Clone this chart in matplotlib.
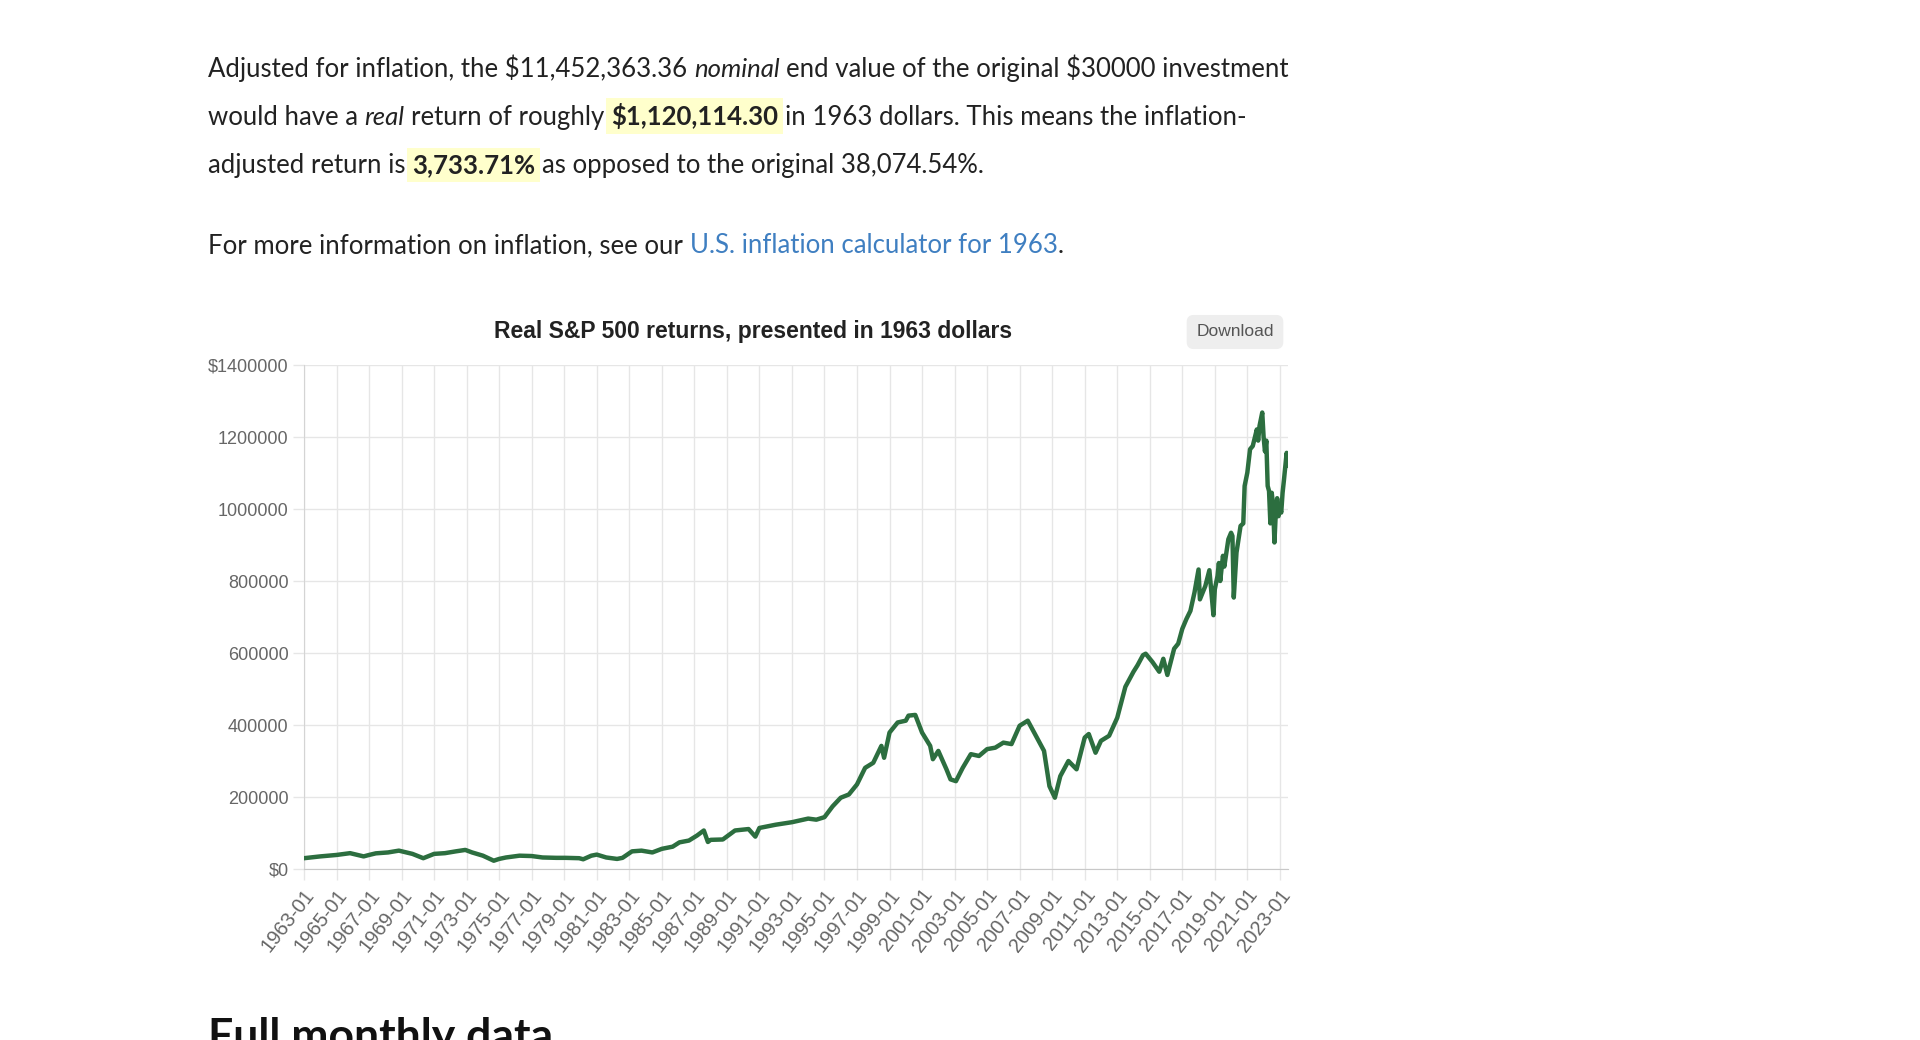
import matplotlib
matplotlib.use('Agg')
import matplotlib.pyplot as plt
from matplotlib import font_manager
from matplotlib.transforms import ScaledTranslation

plt.rcParams['text.parse_math'] = False

# real value of the $30000 (1963 dollars)
months = [
    '1963-01', '1964-01', '1965-01', '1965-11', '1966-09', '1967-01', '1967-06',
    '1968-03', '1968-11', '1969-09', '1970-05', '1971-01', '1971-09', '1972-05',
    '1972-12', '1973-05', '1974-01', '1974-09', '1975-01', '1975-06', '1976-04',
    '1977-01', '1977-09', '1978-07', '1979-02', '1979-12', '1980-03', '1980-09',
    '1981-01', '1981-08', '1982-04', '1982-08', '1983-03', '1983-10', '1984-06',
    '1985-01', '1985-09', '1986-02', '1986-09', '1987-03', '1987-08', '1987-11',
    '1988-01', '1988-10', '1989-07', '1990-05', '1990-10', '1991-01', '1992-01',
    '1993-01', '1994-01', '1994-07', '1995-01', '1995-07', '1996-01', '1996-07',
    '1997-01', '1997-07', '1998-01', '1998-07', '1998-09', '1999-01', '1999-07',
    '2000-01', '2000-03', '2000-08', '2001-01', '2001-07', '2001-09', '2002-01',
    '2002-07', '2002-10', '2003-02', '2003-07', '2004-01', '2004-07', '2005-01',
    '2005-07', '2006-01', '2006-07', '2007-01', '2007-07', '2008-01', '2008-07',
    '2008-11', '2009-03', '2009-07', '2010-01', '2010-07', '2011-01', '2011-04',
    '2011-09', '2012-01', '2012-07', '2013-01', '2013-07', '2014-01', '2014-04',
    '2014-08', '2014-10', '2015-01', '2015-03', '2015-08', '2015-11', '2016-02',
    '2016-07', '2016-10', '2017-01', '2017-04', '2017-07', '2017-10', '2018-01',
    '2018-02', '2018-06', '2018-09', '2018-12', '2019-01', '2019-03', '2019-04',
    '2019-05', '2019-07', '2019-08', '2019-11', '2020-01', '2020-02', '2020-03',
    '2020-05', '2020-08', '2020-10', '2020-11', '2021-01', '2021-03', '2021-05',
    '2021-08', '2021-09', '2021-10', '2021-12', '2022-01', '2022-02', '2022-03',
    '2022-04', '2022-05', '2022-06', '2022-07', '2022-08', '2022-09', '2022-10',
    '2022-11', '2022-12', '2023-01', '2023-02', '2023-03', '2023-04', '2023-05',
    '2023-06', '2023-07',
]
values = [
    30000, 35000, 39000, 44000, 35000, 39000, 43500,
    46000, 51000, 42000, 30000, 42000, 44000, 49000,
    53000, 46000, 37000, 23000, 28000, 32000, 37000,
    36000, 32000, 31000, 31000, 30000, 27000, 37000,
    40000, 32000, 28000, 31000, 49000, 51000, 46000,
    56000, 62000, 74000, 79000, 93000, 107000, 75000,
    81000, 82000, 107000, 111000, 90000, 114000, 123000,
    130000, 140000, 137000, 144000, 174000, 198000, 207000,
    235000, 281000, 295000, 342000, 309000, 379000, 407000,
    412000, 426000, 428000, 379000, 342000, 305000, 328000,
    277000, 249000, 244000, 281000, 319000, 314000, 333000,
    337000, 351000, 347000, 398000, 412000, 370000, 328000,
    230000, 198000, 258000, 300000, 277000, 365000, 375000,
    323000, 356000, 370000, 420000, 506000, 548000, 566000,
    594000, 598000, 584000, 575000, 548000, 584000, 539000,
    612000, 626000, 667000, 694000, 717000, 768000, 832000,
    749000, 786000, 830000, 705000, 777000, 814000, 850000,
    800000, 870000, 840000, 916000, 934000, 925000, 754000,
    879000, 953000, 960000, 1064000, 1101000, 1166000, 1175000,
    1221000, 1190000, 1231000, 1268000, 1200000, 1160000, 1190000,
    1064000, 1050000, 960000, 1045000, 1010000, 907000, 990000,
    1030000, 980000, 1008000, 990000, 1045000, 1080000, 1119000,
    1156000, 1120114,
]

x_labels = [
    '1963-01', '1965-01', '1967-01', '1969-01', '1971-01', '1973-01', '1975-01',
    '1977-01', '1979-01', '1981-01', '1983-01', '1985-01', '1987-01', '1989-01',
    '1991-01', '1993-01', '1995-01', '1997-01', '1999-01', '2001-01', '2003-01',
    '2005-01', '2007-01', '2009-01', '2011-01', '2013-01', '2015-01', '2017-01',
    '2019-01', '2021-01', '2023-01',
]
y_ticks = [0, 200000, 400000, 600000, 800000, 1000000, 1200000, 1400000]
y_labels = ['$0', '200000', '400000', '600000', '800000', '1000000', '1200000', '$1400000']


def month_index(m):
    return (int(m[:4]) - 1963) * 12 + int(m[5:7]) - 1


installed = {f.name for f in font_manager.fontManager.ttflist}
body_font = 'Lato' if 'Lato' in installed else 'Liberation Sans'
chart_font = 'Liberation Sans'

W, H = 1920, 1040
fig = plt.figure(figsize=(W / 100, H / 100), dpi=100)
fig.patch.set_facecolor('white')


def fx(x):
    return x / W


def fy(y):
    return 1 - y / H


# ---- paragraph text above the chart ----
renderer = fig.canvas.get_renderer()
body_size = 18.5
text_color = '#222222'


def text_width(s, **kw):
    t = fig.text(0, 0, s, **kw)
    w = t.get_window_extent(renderer).width
    t.remove()
    return w


def draw_line(x, y, runs):
    for s, style in runs:
        kw = dict(fontsize=body_size, family=body_font, color=text_color, va='baseline', ha='left')
        if style in ('bold', 'mark'):
            kw['fontweight'] = 'bold'
        if style == 'italic':
            kw['fontstyle'] = 'italic'
        if style == 'link':
            kw['color'] = '#3f7fc1'
        if style == 'mark':
            kw['bbox'] = dict(boxstyle='square,pad=0.2', fc='#ffffcc', ec='none')
        space = text_width('a a', **kw) - text_width('aa', **kw)
        lead = len(s) - len(s.lstrip(' '))
        trail = len(s) - len(s.rstrip(' '))
        core = s.strip(' ')
        x += lead * space
        t = fig.text(fx(x), fy(y), core, **kw)
        x += t.get_window_extent(renderer).width + trail * space


draw_line(208, 77, [
    ('Adjusted for inflation, the $11,452,363.36 ', 'normal'),
    ('nominal', 'italic'),
    (' end value of the original $30000 investment', 'normal'),
])
draw_line(208, 125, [
    ('would have a ', 'normal'),
    ('real', 'italic'),
    (' return of roughly ', 'normal'),
    ('$1,120,114.30', 'mark'),
    (' in 1963 dollars. This means the inflation-', 'normal'),
])
draw_line(208, 173, [
    ('adjusted return is ', 'normal'),
    ('3,733.71%', 'mark'),
    (' as opposed to the original 38,074.54%.', 'normal'),
])
draw_line(208, 253, [
    ('For more information on inflation, see our ', 'normal'),
    ('U.S. inflation calculator for 1963', 'link'),
    ('.', 'normal'),
])

fig.text(fx(208), fy(1050), 'Full monthly data', fontsize=32, fontweight='bold',
         family=body_font, color='#111111', va='baseline', ha='left')

# ---- chart ----
fig.text(fx(753), fy(338), 'Real S&P 500 returns, presented in 1963 dollars',
         fontsize=16.5, fontweight='bold', family=chart_font, color='#222222',
         ha='center', va='baseline')
fig.text(fx(1235), fy(332), 'Download', fontsize=12.5, family=chart_font, color='#555555',
         ha='center', va='center',
         bbox=dict(boxstyle='round,pad=0.55,rounding_size=0.4', fc='#eeeeee', ec='none'))

ax = fig.add_axes([fx(304), fy(869), (1288 - 304) / W, (869 - 365) / H])
xs = [month_index(m) for m in months]
ax.plot(xs, values, color='#2c6e3f', lw=3.2, solid_joinstyle='round', zorder=3)

ax.set_xlim(0, xs[-1])
ax.set_ylim(0, 1400000)
ax.set_xticks([month_index(m) for m in x_labels])
ax.set_xticklabels(x_labels, rotation=52, ha='right', va='center', rotation_mode='anchor')
ax.set_yticks(y_ticks)
ax.set_yticklabels(y_labels)

grid_color = '#e6e6e6'
ax.grid(True, color=grid_color, lw=1)
ax.set_axisbelow(True)
ax.tick_params(axis='both', length=8, width=1, color=grid_color, labelcolor='#666666',
               labelsize=13, pad=3)
ax.tick_params(axis='x', labelsize=14.5)
for lab in ax.get_xticklabels() + ax.get_yticklabels():
    lab.set_family(chart_font)
shift = ScaledTranslation(7 / 100, -7 / 100, fig.dpi_scale_trans)
for lab in ax.get_xticklabels():
    lab.set_transform(lab.get_transform() + shift)

for side in ('top', 'right'):
    ax.spines[side].set_visible(False)
ax.spines['left'].set_color('#d4d4d4')
ax.spines['bottom'].set_color('#c8c8c8')

fig.savefig('out.png', dpi=100)
